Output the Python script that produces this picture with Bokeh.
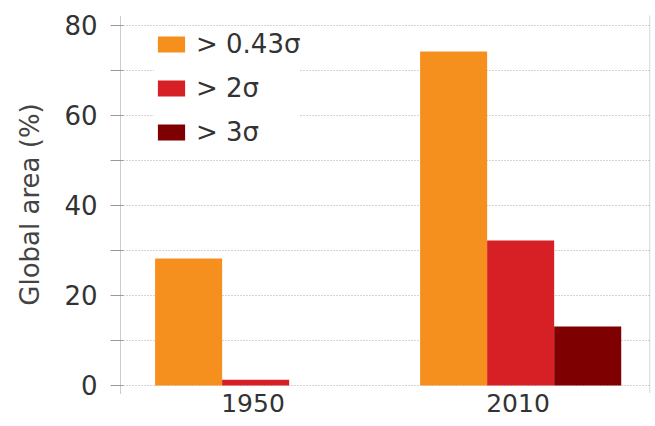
from bokeh.plotting import figure
from bokeh.models import (ColumnDataSource, FactorRange, Range1d, FixedTicker,
                          Legend, LegendItem, Span)
from bokeh.transform import dodge
from bokeh.embed import file_html
from bokeh.resources import INLINE

# ---- data ----
years = ["1950", "2010"]
above_043 = [28.2, 74.2]
above_2 = [1.3, 32.2]
above_3 = [0.0, 13.1]
series_labels = ["> 0.43σ", "> 2σ", "> 3σ"]
colors = ["#F5901E", "#D71F26", "#7E0000"]
y_ticks = [0, 20, 40, 60, 80]
y_minor = [10, 30, 50, 70]

FONT = "DejaVu Sans"
TXT = "#333333"
GRID = "#A8A8A8"

source = ColumnDataSource(dict(year=years, s1=above_043, s2=above_2, s3=above_3))

p = figure(x_range=FactorRange(factors=years, range_padding=0),
           y_range=Range1d(-1.78, 82.22),
           width=654, height=425, output_backend="svg", toolbar_location=None,
           min_border_left=120, min_border_right=4, min_border_top=15,
           min_border_bottom=32)

bw = 0.253
offsets = [-bw + 0.01, 0.01, bw + 0.01]
renderers = []
for col, off, c in zip(["s1", "s2", "s3"], offsets, colors):
    r = p.vbar(x=dodge("year", off, range=p.x_range), top=col, width=bw,
               source=source, fill_color=c, line_color=None)
    renderers.append(r)

# grid
p.xgrid.grid_line_color = None
p.ygrid.ticker = FixedTicker(ticks=y_ticks, minor_ticks=y_minor)
p.ygrid.grid_line_color = GRID
p.ygrid.grid_line_dash = "1 2"
p.ygrid.minor_grid_line_color = GRID
p.ygrid.minor_grid_line_dash = "1 2"
p.outline_line_color = None

# y axis
ya = p.yaxis[0]
ya.ticker = FixedTicker(ticks=y_ticks, minor_ticks=y_minor)
ya.axis_line_color = "#999999"
ya.axis_line_dash = "1 1"
ya.major_tick_line_color = "#999999"
ya.minor_tick_line_color = "#999999"
ya.major_tick_out = 10
ya.major_tick_in = 3
ya.minor_tick_out = 10
ya.minor_tick_in = 3
ya.major_label_standoff = 13
ya.major_label_text_font = FONT
ya.major_label_text_font_size = "26px"
ya.major_label_text_color = TXT
ya.axis_label = "Global area (%)"
ya.axis_label_text_font = FONT
ya.axis_label_text_font_size = "26px"
ya.axis_label_text_font_style = "normal"
ya.axis_label_text_color = "#444444"
ya.axis_label_standoff = 16

# x axis
xa = p.xaxis[0]
xa.axis_line_color = None
xa.major_tick_line_color = None
xa.minor_tick_line_color = None
xa.major_tick_out = 0
xa.major_tick_in = 0
xa.major_label_standoff = 0
xa.major_label_text_font = FONT
xa.major_label_text_font_size = "25px"
xa.major_label_text_color = TXT

# right edge dotted line
p.add_layout(Span(location=1.998, dimension="height", line_color="#999999",
                  line_dash="1 1", line_width=1))

legend = Legend(items=[LegendItem(label=l, renderers=[r])
                       for l, r in zip(series_labels, renderers)],
                location=(34, 246), glyph_width=34, glyph_height=20,
                label_height=20, label_standoff=8, spacing=14, padding=4,
                margin=0, border_line_color=None,
                background_fill_color="white", background_fill_alpha=1,
                label_text_font=FONT, label_text_font_size="26px",
                label_text_color=TXT)
p.add_layout(legend)

open("out.html", "w").write(file_html(p, INLINE))
